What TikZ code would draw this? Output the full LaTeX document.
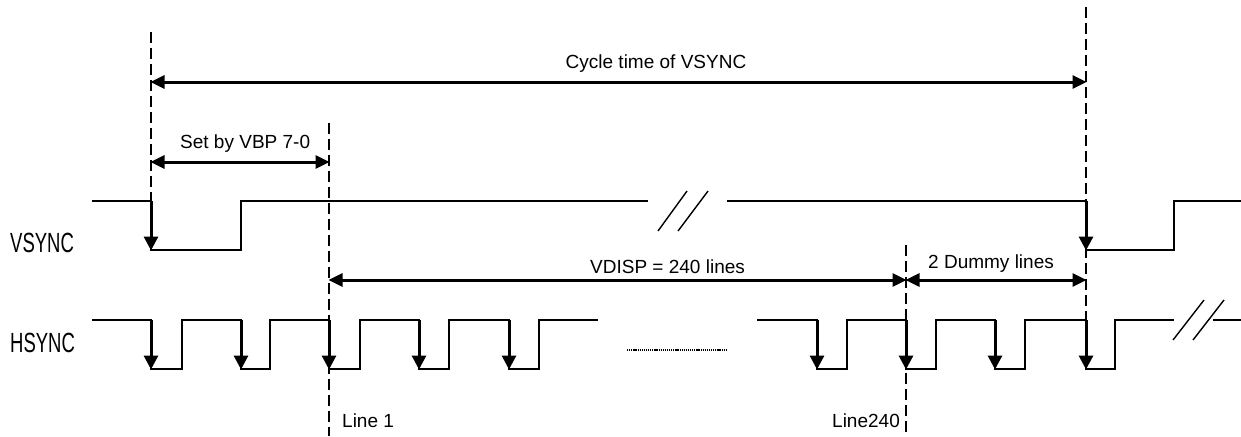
\documentclass[tikz,border=0pt]{standalone}
\usepackage{fontspec}
\setmainfont{Liberation Sans}
\usetikzlibrary{arrows.meta}
\begin{document}
\begin{tikzpicture}[x=1pt,y=-1pt,
  wave/.style={line width=1.4pt,line join=miter},
  guide/.style={line width=1.4pt,dash pattern=on 11pt off 5pt},
  dimline/.style={line width=3pt,{Triangle[length=14pt,width=13pt]}-{Triangle[length=14pt,width=13pt]},shorten <=-0.5pt,shorten >=-0.5pt},
  edgearrow/.style={line width=3pt,-{Triangle[length=14pt,width=14pt]}},
  lbl/.style={font=\fontsize{19}{22}\selectfont,inner sep=0pt},
  siglbl/.style={font=\fontsize{18.5}{22}\selectfont,inner sep=0pt,anchor=base west},
]
\useasboundingbox (0,0) rectangle (1241,436);

% guide coordinates
\coordinate (g1t) at (151,32);  \coordinate (g1b) at (151,252);
\coordinate (g2t) at (329,123); \coordinate (g2b) at (329,436);
\coordinate (g3t) at (906,245); \coordinate (g3b) at (906,436);
\coordinate (g4t) at (1086,7);  \coordinate (g4b) at (1086,320);

\draw[guide] (g1t) -- (g1b);
\draw[guide] (g2t) -- (g2b);
\draw[guide] (g3t) -- (g3b);
\draw[guide] (g4t) -- (g4b);

% dimension arrows
\coordinate (c1) at (151,82);  \coordinate (c2) at (1086,82);
\coordinate (s1) at (151,162); \coordinate (s2) at (329,162);
\coordinate (v1) at (329,280); \coordinate (v2) at (906,280);
\coordinate (d1) at (906,280); \coordinate (d2) at (1086,280);
\draw[dimline] (c1) -- (c2);
\draw[dimline] (s1) -- (s2);
\draw[dimline] (v1) -- (v2);
\draw[dimline] (d1) -- (d2);

\node[lbl,anchor=base] (tcycle) at (656,68) {Cycle time of VSYNC};
\node[lbl,anchor=base west] (tvbp) at (180,148) {Set by VBP 7-0};
\node[lbl,anchor=base west] (tvdisp) at (590,273) {VDISP = 240 lines};
\node[lbl,anchor=base west] (tdummy) at (928,268) {2 Dummy lines};
\node[lbl,anchor=base west] (tline1) at (342,427) {Line 1};
\node[lbl,anchor=base west] (tline240) at (832,427) {Line240};

\node[siglbl] (tvs) at (10,252) {\scalebox{1}[1.5]{VSYNC}};
\node[siglbl] (ths) at (10,352) {\scalebox{1}[1.5]{HSYNC}};

% VSYNC waveform
\draw[wave] (92,201) -- (151,201) -- (151,250) -- (241,250) -- (241,201) -- (648,201);
\draw[wave] (727,201) -- (1086,201) -- (1086,250) -- (1174,250) -- (1174,201) -- (1241,201);
\draw[wave] (658,231) -- (687,191);
\draw[wave] (678,231) -- (708,191);

% HSYNC waveform
\draw[wave] (92,320) -- (151,320) -- (151,369) -- (182,369) -- (182,320) -- (241,320)
  -- (241,369) -- (270,369) -- (270,320) -- (329,320) -- (329,369) -- (360,369)
  -- (360,320) -- (419,320) -- (419,369) -- (449,369) -- (449,320) -- (509,320)
  -- (509,369) -- (539,369) -- (539,320) -- (598,320);
\draw[wave] (757,320) -- (817,320) -- (817,369) -- (847,369) -- (847,320) -- (906,320)
  -- (906,369) -- (936,369) -- (936,320) -- (995,320) -- (995,369) -- (1025,369)
  -- (1025,320) -- (1086,320) -- (1086,369) -- (1115,369) -- (1115,320) -- (1174,320);
\draw[wave] (1173,340) -- (1204,300);
\draw[wave] (1193,340) -- (1224,300);
\draw[wave] (1213,320) -- (1241,320);

\draw[line width=1.4pt,dash pattern=on 1.2pt off 0.9pt] (627,350) -- (727,350);

% edge arrows
\foreach \x in {151,1086} {
  \coordinate (va\x) at (\x,201); \coordinate (vb\x) at (\x,250.5);
  \draw[edgearrow] (va\x) -- (vb\x);
}
\foreach \x in {151,241,329,419,509,817,906,995,1086} {
  \coordinate (ha\x) at (\x,320); \coordinate (hb\x) at (\x,369.5);
  \draw[edgearrow] (ha\x) -- (hb\x);
}
\end{tikzpicture}
\end{document}
